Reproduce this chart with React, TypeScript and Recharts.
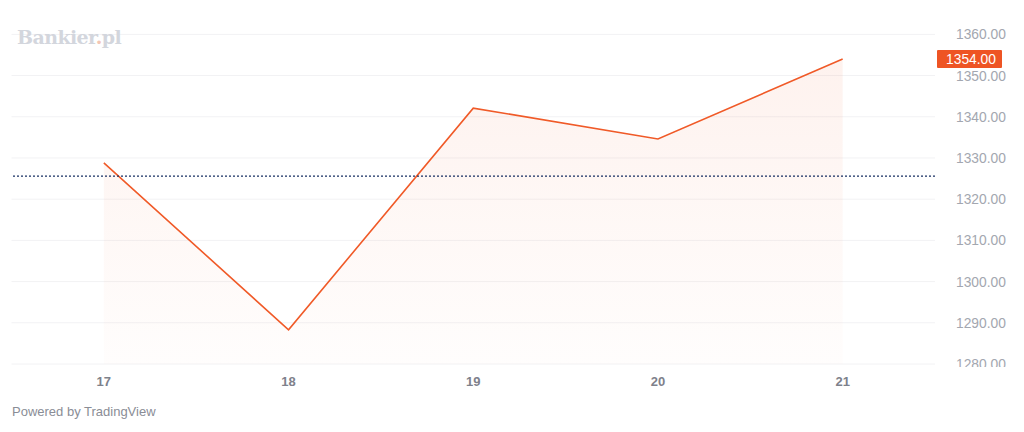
import React from "react";
import {
  ComposedChart,
  Area,
  XAxis,
  YAxis,
  CartesianGrid,
  ReferenceLine,
} from "recharts";

const days = [17, 18, 19, 20, 21];
const closes = [1328.8, 1288.3, 1342.1, 1334.6, 1354.0];
const yTicks = [1280, 1290, 1300, 1310, 1320, 1330, 1340, 1350, 1360];
const prevClose = 1325.6;
const lastPrice = 1354.0;

const data = days.map((d, i) => ({ day: d, close: closes[i] }));

const FONT = '"Liberation Sans", Arial, sans-serif';

const YTick = (props: any) => {
  const { x, y, payload } = props;
  return (
    <g>
      <defs>
        <clipPath id={`yclip-${payload.value}`}>
          <rect x={900} y={0} width={130} height={367} />
        </clipPath>
      </defs>
      <text
        x={x + 13}
        y={y}
        dy={5}
        textAnchor="start"
        fill="#a3a7b0"
        fontSize={13.8}
        fontFamily={FONT}
        clipPath={`url(#yclip-${payload.value})`}
      >
        {Number(payload.value).toFixed(2)}
      </text>
    </g>
  );
};

const XTick = (props: any) => {
  const { x, y, payload } = props;
  return (
    <text
      x={x}
      y={y + 14}
      textAnchor="middle"
      fill="#7e818b"
      fontSize={13}
      fontWeight="bold"
      fontFamily={FONT}
    >
      {payload.value}
    </text>
  );
};

const PriceBadge = (props: any) => {
  const { viewBox } = props;
  const x = viewBox.x + viewBox.width + 2;
  const y = viewBox.y;
  return (
    <g>
      <rect x={x} y={y - 9} width={65} height={18} fill="#ee5424" rx={1} />
      <text
        x={x + 34}
        y={y + 5}
        textAnchor="middle"
        fill="#ffffff"
        fontSize={13.8}
        fontFamily={FONT}
      >
        {lastPrice.toFixed(2)}
      </text>
    </g>
  );
};

export default function App() {
  return (
    <div
      style={{
        position: "absolute",
        left: 0,
        top: 0,
        width: 1024,
        height: 432,
        background: "#ffffff",
        overflow: "hidden",
      }}
    >
      <ComposedChart
        width={1024}
        height={432}
        data={data}
        margin={{ top: 22, right: 0, bottom: 38, left: 11.5 }}
      >
        <defs>
          <linearGradient id="areaFill" x1="0" y1="0" x2="0" y2="1">
            <stop offset="0%" stopColor="#f05a28" stopOpacity={0.13} />
            <stop offset="100%" stopColor="#f05a28" stopOpacity={0.02} />
          </linearGradient>
        </defs>
        <CartesianGrid
          vertical={false}
          horizontalValues={yTicks}
          stroke="#f2f2f4"
          strokeWidth={1}
        />
        <XAxis
          dataKey="day"
          type="number"
          domain={[16.5, 21.5]}
          ticks={days}
          axisLine={false}
          tickLine={false}
          height={30}
          tick={<XTick />}
          interval={0}
        />
        <YAxis
          orientation="right"
          type="number"
          domain={[1280, 1363]}
          ticks={yTicks}
          axisLine={false}
          tickLine={false}
          width={89}
          tick={<YTick />}
          interval={0}
          allowDataOverflow
        />
        <Area
          type="linear"
          dataKey="close"
          stroke="#f05a28"
          strokeWidth={1.6}
          fill="url(#areaFill)"
          baseValue="dataMin"
          isAnimationActive={false}
          dot={false}
          activeDot={false}
        />
        <ReferenceLine
          y={prevClose}
          stroke="#172f63"
          strokeDasharray="2 2"
          strokeWidth={1.2}
        />
        <ReferenceLine
          y={lastPrice}
          stroke="none"
          label={<PriceBadge />}
        />
      </ComposedChart>
      <div
        style={{
          position: "absolute",
          left: 17,
          top: 26,
          fontFamily: '"DejaVu Serif", "Liberation Serif", serif',
          fontWeight: "bold",
          fontSize: 19,
          color: "#d3d6dd",
          letterSpacing: -0.6,
        }}
      >
        Bankier<span style={{ color: "#f3c6b4" }}>.</span>pl
      </div>
      <div
        style={{
          position: "absolute",
          left: 12,
          top: 404,
          fontFamily: FONT,
          fontSize: 13,
          color: "#8a8d96",
        }}
      >
        Powered by TradingView
      </div>
    </div>
  );
}
